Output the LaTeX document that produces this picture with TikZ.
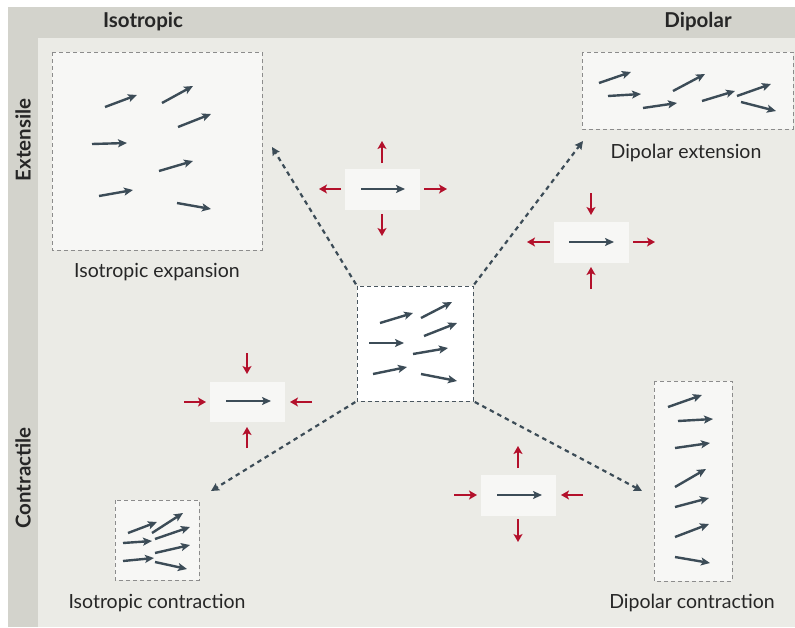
\documentclass[tikz,border=0pt]{standalone}
\usepackage{fontspec}
\setmainfont{Lato}
\usetikzlibrary{arrows.meta}
\definecolor{bandgray}{HTML}{D3D3CC}
\definecolor{panel}{HTML}{EBEBE6}
\definecolor{boxfill}{HTML}{F7F7F5}
\definecolor{slate}{HTML}{3C4C57}
\definecolor{redc}{HTML}{B3102B}
\definecolor{dashgray}{HTML}{8C8C8C}
\tikzset{
  vec/.style={slate, line width=2.4pt, -{Stealth[length=9pt,width=8pt,inset=2pt]}},
  redarr/.style={redc, line width=2.4pt, -{Stealth[length=8pt,width=9pt,inset=2pt]}},
  dbox/.style={draw=dashgray, dash pattern=on 4pt off 3pt, line width=0.9pt, fill=boxfill},
  cbox/.style={draw=slate!80!gray, dash pattern=on 4pt off 3pt, line width=1pt, fill=white},
  sbox/.style={fill=boxfill, draw=none},
  conn/.style={slate, line width=2.2pt, dash pattern=on 4.5pt off 4pt, -{Stealth[length=8pt,width=8pt,inset=1pt]}, shorten <=2pt},
  head/.style={font=\bfseries\fontsize{20.5}{22}\selectfont, text=black!85},
  lab/.style={font=\fontsize{19.5}{22}\selectfont, text=black!85}
}
\begin{document}
\begin{tikzpicture}[x=1pt,y=-1pt]
\useasboundingbox (0,0) rectangle (795,627);
\fill[white] (0,0) rectangle (795,627);
\fill[bandgray] (8,7) rectangle (795,627);
\fill[panel] (38,38) rectangle (795,627);
% headers
\node[head] (hiso) at (143,22) {Isotropic};
\node[head] (hdip) at (698,22) {Dipolar};
\node[head, rotate=90] (hext) at (23,140) {Extensile};
\node[head, rotate=90] (hcon) at (23,478) {Contractile};
% boxes
\path[dbox] (52,52) rectangle (262,250);
\path[dbox] (582,52) rectangle (793,129);
\path[dbox] (115,500) rectangle (199,580);
\path[dbox] (654,381) rectangle (732,581);
\path[cbox] (357,286) rectangle (473,401);
\coordinate (ctl) at (357,286);
\coordinate (ctr) at (473,286);
\coordinate (cbl) at (357,401);
\coordinate (cbr) at (473,401);
% labels
\node[lab] (lie) at (157,272) {Isotropic expansion};
\node[lab] (lde) at (686,153) {Dipolar extension};
\node[lab] (lic) at (157,603) {Isotropic contraction};
\node[lab] (ldc) at (692,603) {Dipolar contraction};
% connectors
\coordinate (tie) at (272,147);
\coordinate (tde) at (583,141);
\coordinate (tic) at (211,491);
\coordinate (tdc) at (642,491);
\draw[conn] (ctl) -- (tie);
\draw[conn] (ctr) -- (tde);
\draw[conn] (cbl) -- (tic);
\draw[conn] (cbr) -- (tdc);
% isotropic expansion arrows
\draw[vec] (105,107) -- (137,95);
\draw[vec] (162,103) -- (193,86);
\draw[vec] (178,127) -- (211,114);
\draw[vec] (92,144) -- (127,143);
\draw[vec] (159,171) -- (193,161);
\draw[vec] (99,196) -- (133,190);
\draw[vec] (177,203) -- (211,209);
% central arrows
\draw[vec] (380,323) -- (413,313);
\draw[vec] (421,318) -- (452,302);
\draw[vec] (424,336) -- (457,323);
\draw[vec] (369,343) -- (404,343);
\draw[vec] (413,354) -- (448,348);
\draw[vec] (373,374) -- (407,367);
\draw[vec] (421,374) -- (457,381);
% dipolar extension arrows
\draw[vec] (599,83) -- (631,72);
\draw[vec] (608,96) -- (641,94);
\draw[vec] (643,108) -- (677,103);
\draw[vec] (673,91) -- (705,74);
\draw[vec] (702,101) -- (735,91);
\draw[vec] (737,96) -- (771,84);
\draw[vec] (741,102) -- (776,111);
% isotropic contraction arrows
\draw[vec] (128,533) -- (157,522);
\draw[vec] (152,533) -- (183,513);
\draw[vec] (155,539) -- (190,527);
\draw[vec] (123,543) -- (152,541);
\draw[vec] (155,553) -- (190,545);
\draw[vec] (123,561) -- (154,558);
\draw[vec] (155,562) -- (187,569);
% dipolar contraction arrows
\draw[vec] (668,407) -- (702,395);
\draw[vec] (678,421) -- (713,419);
\draw[vec] (675,448) -- (710,443);
\draw[vec] (675,487) -- (706,469);
\draw[vec] (675,507) -- (709,498);
\draw[vec] (675,537) -- (709,524);
\draw[vec] (675,557) -- (710,563);
% small box S1 (isotropic expansion stress)
\path[sbox] (345,169) rectangle (420,210);
\draw[vec] (361,189) -- (405,189);
\draw[redarr] (382,163) -- (382,141);
\draw[redarr] (382,214) -- (382,236);
\draw[redarr] (341,189) -- (319,189);
\draw[redarr] (424,189) -- (447,189);
% S2 dipolar extension
\path[sbox] (554,222) rectangle (629,263);
\draw[vec] (569,242) -- (614,242);
\draw[redarr] (591,193) -- (591,215);
\draw[redarr] (591,289) -- (591,267);
\draw[redarr] (550,242) -- (527,242);
\draw[redarr] (633,242) -- (655,242);
% S3 isotropic contraction
\path[sbox] (210,382) rectangle (285,422);
\draw[vec] (226,401) -- (271,401);
\draw[redarr] (247,353) -- (247,374);
\draw[redarr] (247,448) -- (247,427);
\draw[redarr] (184,402) -- (206,402);
\draw[redarr] (312,402) -- (290,402);
% S4 dipolar contraction
\path[sbox] (481,475) rectangle (556,516);
\draw[vec] (497,495) -- (542,495);
\draw[redarr] (518,468) -- (518,446);
\draw[redarr] (518,519) -- (518,542);
\draw[redarr] (454,495) -- (477,495);
\draw[redarr] (583,495) -- (561,495);
\end{tikzpicture}
\end{document}
